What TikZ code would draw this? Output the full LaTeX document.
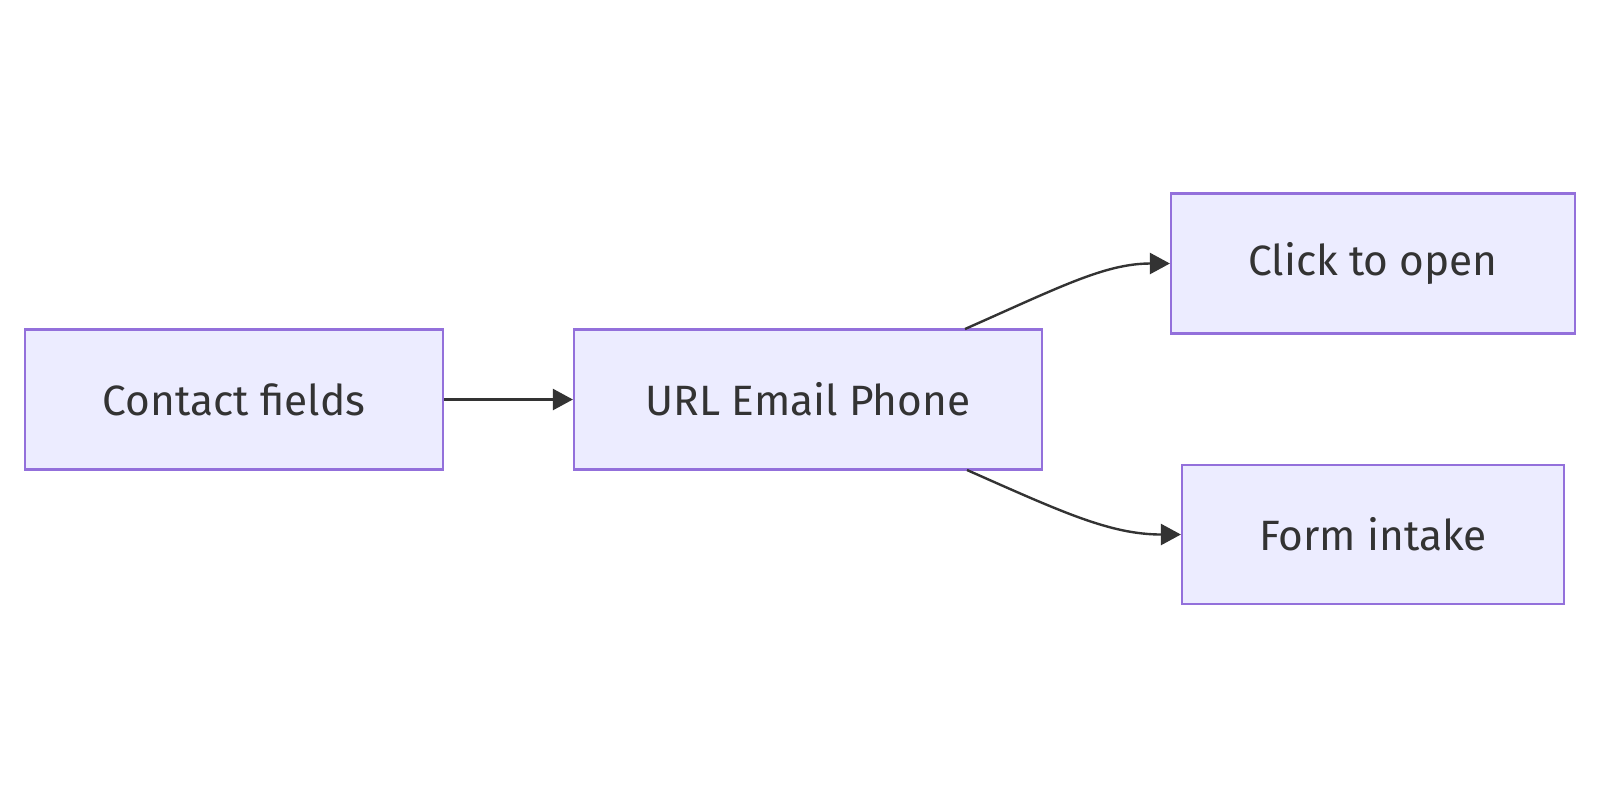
\documentclass[tikz,border=0pt]{standalone}
\usepackage{fontspec}
\setmainfont{Fira Sans}
\usetikzlibrary{arrows.meta}

\definecolor{boxfill}{HTML}{ECECFF}
\definecolor{boxline}{HTML}{9370DB}
\definecolor{ink}{HTML}{333333}

\begin{document}
\begin{tikzpicture}[x=0.5pt,y=-0.5pt,
    block/.style={draw=boxline,fill=boxfill,line width=1.1pt,minimum height=70pt,
      inner sep=0pt,text=ink,font=\fontsize{21.2}{24}\selectfont},
    flow/.style={draw=ink,line width=1.2pt,-{Triangle[length=10pt,width=10.5pt]}}]
  \useasboundingbox (0,0) rectangle (1600,800);
  \node[block,minimum width=209pt] (contact) at (234,399.5) {Contact fields};
  \node[block,minimum width=234pt] (url) at (808,399.5) {URL Email Phone};
  \node[block,minimum width=202pt] (click) at (1373,263.5) {Click to open};
  \node[block,minimum width=191pt,minimum height=69.5pt] (form) at (1373,534.5) {Form intake};
  \coordinate (upout) at (965,329);
  \coordinate (downout) at (967,470);
  \draw[flow] (contact) -- (url);
  \draw[flow] (upout) .. controls (1060,287) and (1105,263.5) .. (click.west);
  \draw[flow] (downout) .. controls (1062,512) and (1110,534.5) .. (form.west);
\end{tikzpicture}
\end{document}
